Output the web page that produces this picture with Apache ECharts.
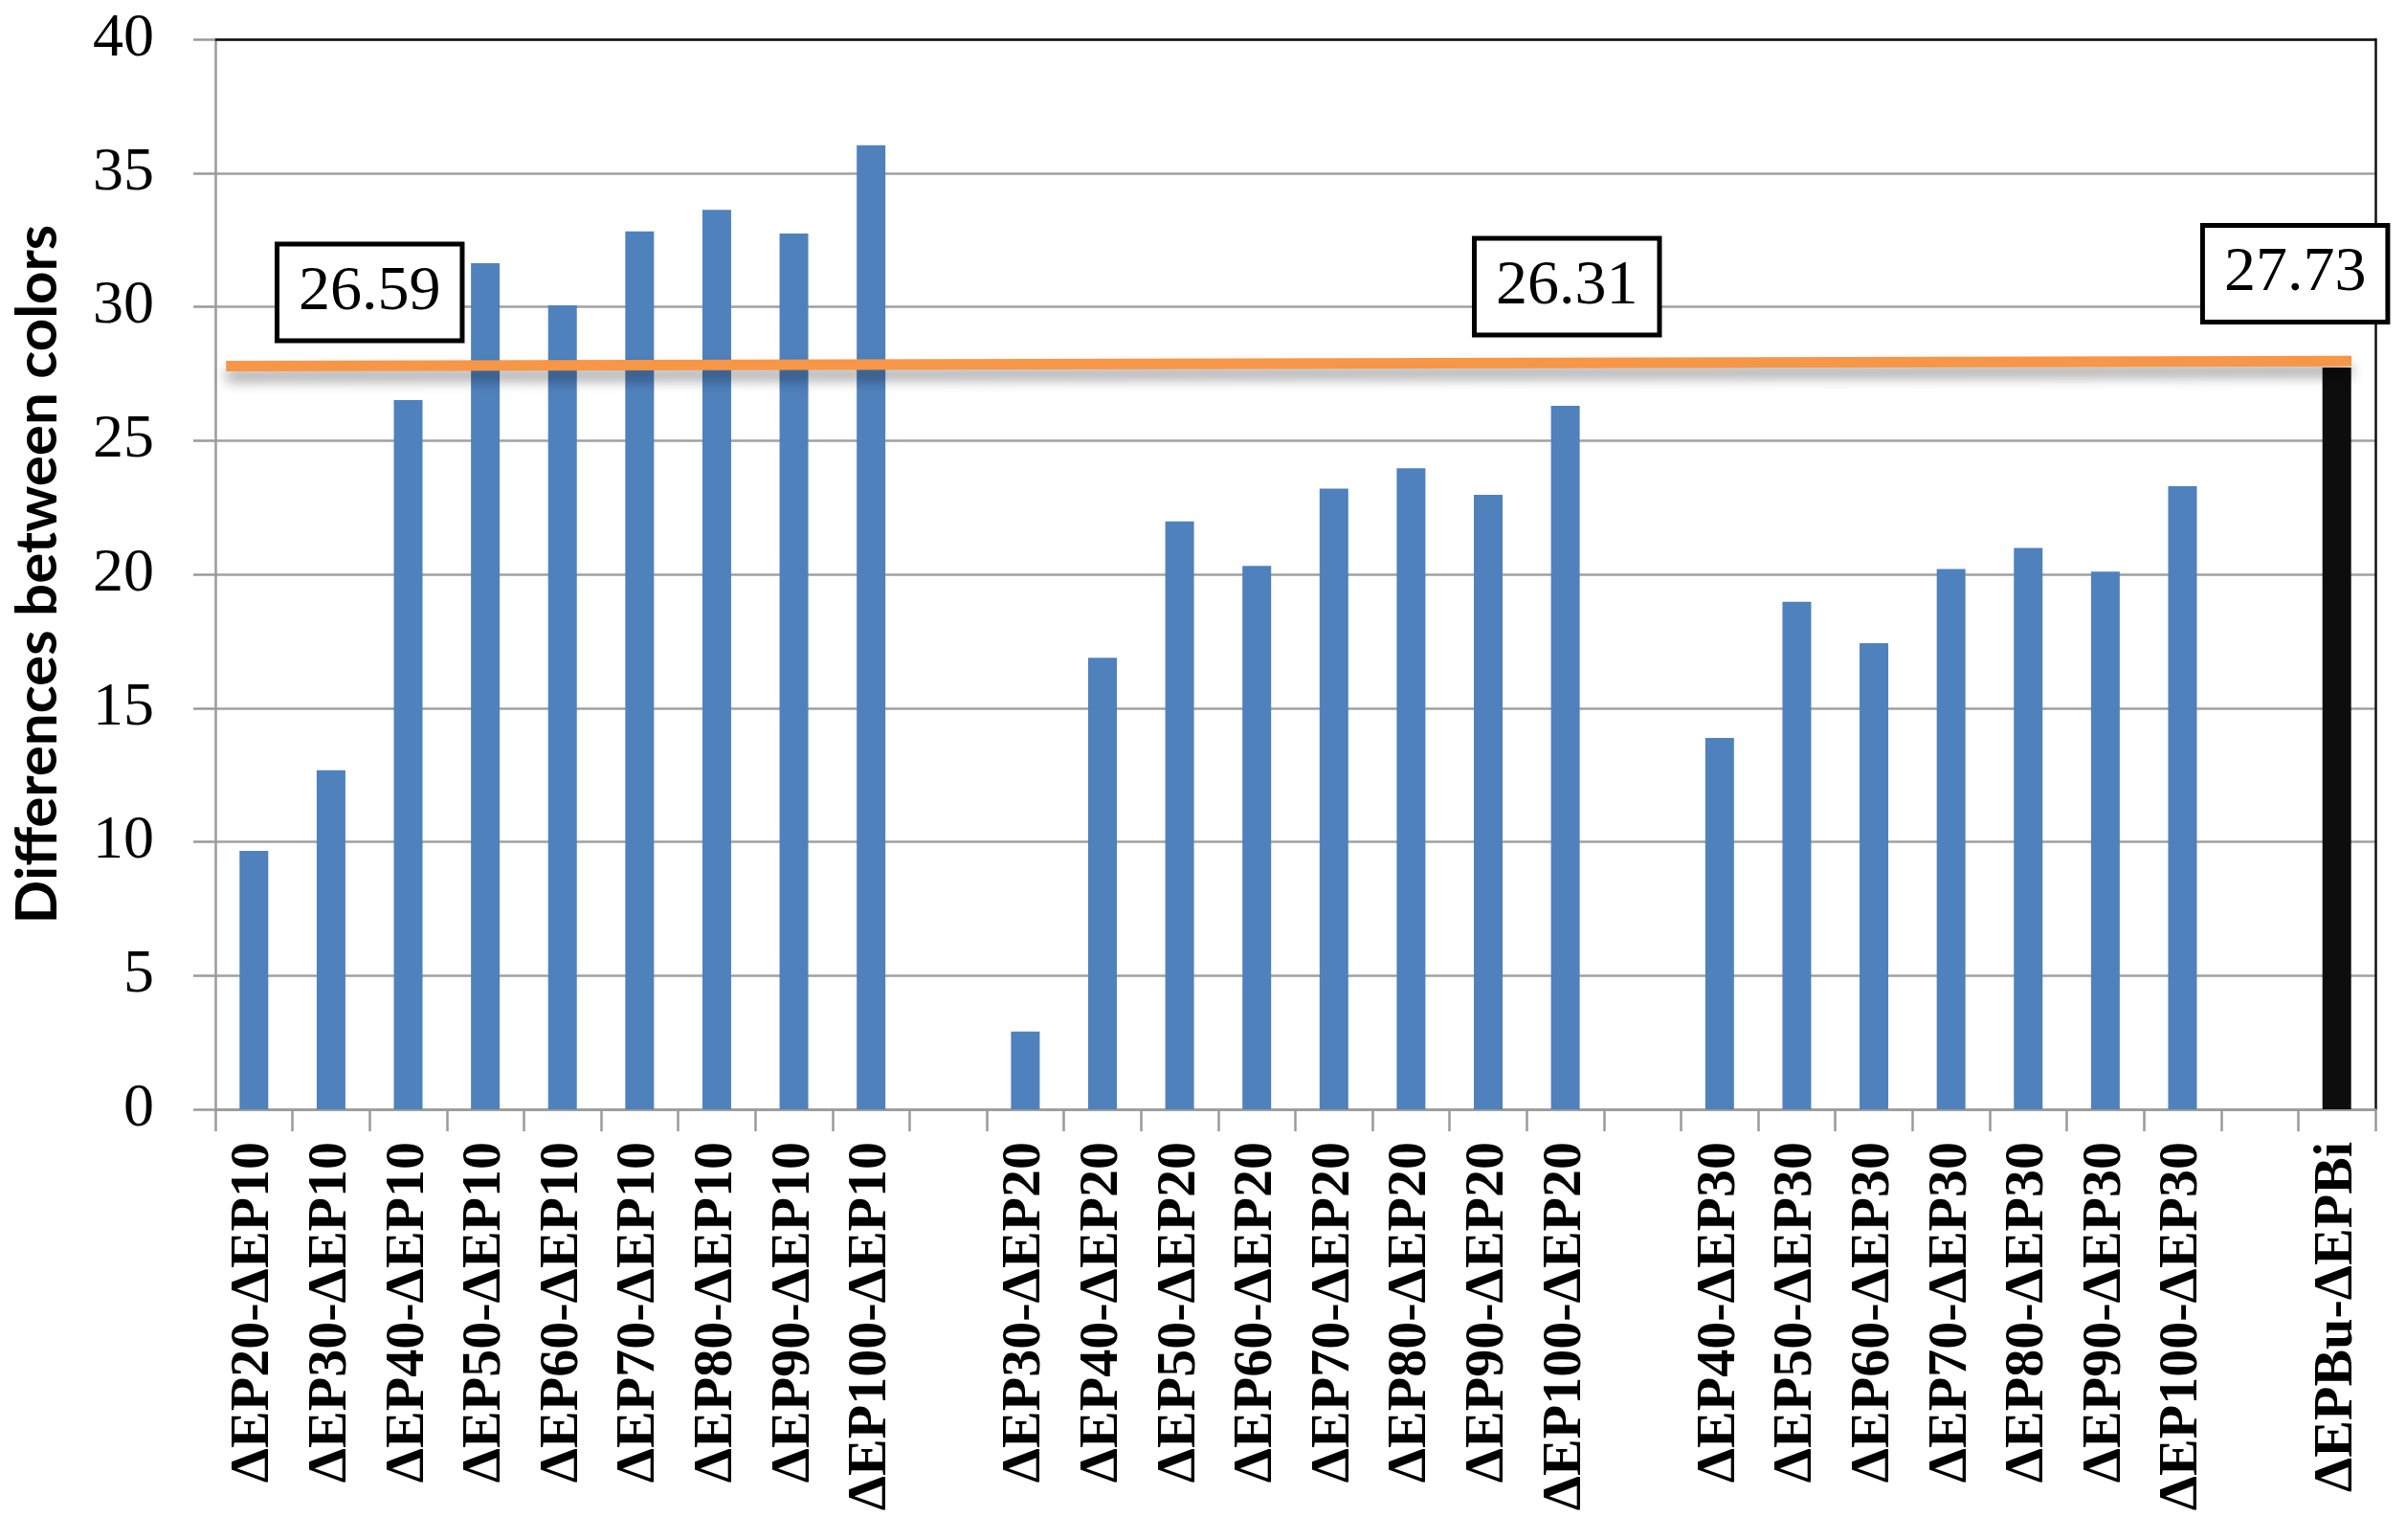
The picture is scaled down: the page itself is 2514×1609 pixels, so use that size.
<!DOCTYPE html>
<html>
<head>
<meta charset="utf-8">
<script src="https://cdn.jsdelivr.net/npm/echarts@6/dist/echarts.min.js"></script>
<style>
html,body{margin:0;padding:0;background:#fff;}
#chart{width:2514px;height:1609px;}
</style>
</head>
<body>
<div id="chart"></div>
<script>
// ---- data ----
const categories = [
  'ΔEP20-ΔEP10','ΔEP30-ΔEP10','ΔEP40-ΔEP10','ΔEP50-ΔEP10','ΔEP60-ΔEP10','ΔEP70-ΔEP10','ΔEP80-ΔEP10','ΔEP90-ΔEP10','ΔEP100-ΔEP10',
  '',
  'ΔEP30-ΔEP20','ΔEP40-ΔEP20','ΔEP50-ΔEP20','ΔEP60-ΔEP20','ΔEP70-ΔEP20','ΔEP80-ΔEP20','ΔEP90-ΔEP20','ΔEP100-ΔEP20',
  '',
  'ΔEP40-ΔEP30','ΔEP50-ΔEP30','ΔEP60-ΔEP30','ΔEP70-ΔEP30','ΔEP80-ΔEP30','ΔEP90-ΔEP30','ΔEP100-ΔEP30',
  '',
  'ΔEPBu-ΔEPBi'
];
const valuesVsEP10 = [9.66, 12.67, 26.51, 31.63, 30.05, 32.82, 33.62, 32.74, 36.04];
const valuesVsEP20 = [2.91, 16.88, 21.98, 20.31, 23.2, 23.96, 22.97, 26.3];
const valuesVsEP30 = [13.88, 18.97, 17.42, 20.2, 20.98, 20.1, 23.29];
const valueBuBi = 27.73;
const yTicks = [0, 5, 10, 15, 20, 25, 30, 35, 40];
const yAxisTitle = 'Differences between colors';
// reference line (hand-drawn, in category-slot units along x)
const refLineX = [0.14, 27.69];
const refLineY = [27.78, 27.97];
// boxed annotations
const annotationTexts = ['26.59', '26.31', '27.73'];
const annotationX = [2.0, 17.52, 26.96];
const annotationY = [30.54, 30.75, 31.23];

// ---- build ----
const blueData = [].concat(valuesVsEP10, [null], valuesVsEP20, [null], valuesVsEP30, [null], [null]);
const blackData = categories.map((c, i) => i === categories.length - 1 ? valueBuBi : null);

const serif = '"Liberation Serif", "Times New Roman", serif';
const chart = echarts.init(document.getElementById('chart'), null, {renderer: 'canvas'});
chart.setOption({
  backgroundColor: '#ffffff',
  animation: false,
  grid: {left: 225, right: 32, top: 41, bottom: 450, containLabel: false, outerBoundsMode: 'none'},
  xAxis: [{
    type: 'category',
    data: categories,
    boundaryGap: true,
    position: 'bottom',
    axisLine: {show: true, onZero: false, lineStyle: {color: '#9a9a9a', width: 2.5}},
    axisTick: {show: true, length: 23, interval: 0, lineStyle: {color: '#9a9a9a', width: 2.5}},
    axisLabel: {show: true, interval: 0, rotate: 90, margin: 34, color: '#000',
      fontFamily: serif, fontWeight: 'bold', fontSize: 58},
    splitLine: {show: false}
  }, {
    type: 'value',
    min: 0, max: 28,
    position: 'top',
    axisLine: {show: true, onZero: false, lineStyle: {color: '#111', width: 2.5}},
    axisTick: {show: false},
    axisLabel: {show: false},
    splitLine: {show: false}
  }],
  yAxis: [{
    type: 'value',
    min: 0, max: 40, interval: 5,
    name: yAxisTitle,
    nameLocation: 'middle',
    nameGap: 155,
    nameRotate: 90,
    nameTextStyle: {fontFamily: 'Lato, "Noto Sans", sans-serif', fontWeight: 'bold', fontSize: 60, color: '#000'},
    axisLine: {show: true, onZero: false, lineStyle: {color: '#9a9a9a', width: 2.5}},
    axisTick: {show: true, length: 23, lineStyle: {color: '#9a9a9a', width: 2.5}},
    axisLabel: {show: true, margin: 64, color: '#000', fontFamily: serif, fontSize: 64,
      formatter: v => yTicks.indexOf(v) >= 0 ? String(v) : ''},
    splitLine: {show: true, lineStyle: {color: '#a0a0a0', width: 2.5}}
  }, {
    type: 'value',
    min: 0, max: 40,
    position: 'right',
    axisLine: {show: true, onZero: false, lineStyle: {color: '#111', width: 2.5}},
    axisTick: {show: false},
    axisLabel: {show: false},
    splitLine: {show: false}
  }],
  series: [{
    type: 'bar',
    xAxisIndex: 0, yAxisIndex: 0,
    data: blueData,
    barWidth: 30,
    barGap: '-100%',
    itemStyle: {color: '#4f81bd'},
    z: 2
  }, {
    type: 'bar',
    xAxisIndex: 0, yAxisIndex: 0,
    data: blackData,
    barWidth: 30,
    barGap: '-100%',
    itemStyle: {color: '#0d0d0d'},
    z: 2
  }, {
    type: 'line',
    xAxisIndex: 1, yAxisIndex: 0,
    data: refLineX.map((x, i) => [x, refLineY[i]]),
    symbol: 'none',
    lineStyle: {color: '#f79646', width: 11, cap: 'butt', opacity: 1,
      shadowColor: 'rgba(0,0,0,0.4)', shadowBlur: 14, shadowOffsetY: 10},
    z: 5
  }, {
    type: 'scatter',
    xAxisIndex: 1, yAxisIndex: 0,
    data: annotationX.map((x, i) => [x, annotationY[i], annotationTexts[i]]),
    symbolSize: 1,
    itemStyle: {opacity: 1, color: 'rgba(0,0,0,0)'},
    label: {
      show: true,
      position: 'inside',
      formatter: p => p.data[2],
      fontFamily: serif,
      fontSize: 66,
      color: '#000',
      opacity: 1,
      textBorderWidth: 0,
      backgroundColor: '#fff',
      borderColor: '#000',
      borderWidth: 5,
      padding: [18, 20, 12, 20]
    },
    emphasis: {disabled: true},
    z: 10
  }]
});
</script>
</body>
</html>
